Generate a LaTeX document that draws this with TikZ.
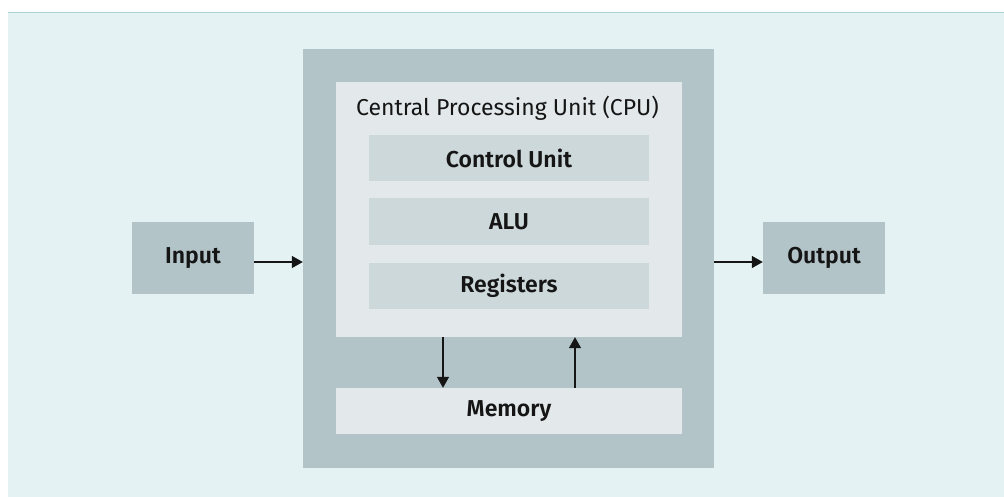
\documentclass[tikz,border=0pt]{standalone}
\usepackage{fontspec}
\setmainfont{Fira Sans}[BoldFont={Fira Sans SemiBold}]
\usetikzlibrary{arrows.meta,calc}
\definecolor{bgc}{HTML}{E4F2F3}
\definecolor{linec}{HTML}{A9D3D5}
\definecolor{grayc}{HTML}{B2C4C8}
\definecolor{innerc}{HTML}{E3E8EA}
\definecolor{subc}{HTML}{CDD8DA}
\definecolor{txtc}{HTML}{151515}
\begin{document}
\begin{tikzpicture}[x=1pt,y=-1pt,
  box/.style={draw=none,inner sep=0pt,minimum width=#1,text=txtc,font=\fontsize{23}{27}\selectfont\bfseries},
  arr/.style={draw=txtc,line width=1.3pt,-{Triangle[length=11pt,width=12pt]}}]
\useasboundingbox (0,0) rectangle (1004,497);
\fill[bgc] (8,13) rectangle (1004,497);
\draw[linec,line width=1pt] (8,13) -- (1004,13);
\node[box=122pt,fill=grayc,minimum height=72pt] (in) at (193,258) {Input};
\node[box=122pt,fill=grayc,minimum height=72pt] (out) at (824,258) {Output};
\node[box=411pt,fill=grayc,minimum height=419pt] (cpu) at (508.5,258.5) {};
\node[box=346pt,fill=innerc,minimum height=255pt] (inner) at (509,209.5) {};
\node[inner sep=0pt,text=txtc,font=\fontsize{23}{27}\selectfont] (title) at (507.5,108) {Central Processing Unit (CPU)};
\node[box=280pt,fill=subc,minimum height=46pt] (cu) at (509,158) {Control Unit};
\node[box=280pt,fill=subc,minimum height=47pt] (alu) at (509,221.5) {ALU};
\node[box=280pt,fill=subc,minimum height=46pt] (reg) at (509,286) {Registers};
\node[box=346pt,fill=innerc,minimum height=46pt] (mem) at (509,411) {Memory};
\draw[arr] ([yshift=-4pt]in.east) -- ([yshift=-4pt]in.east -| cpu.west);
\draw[arr] ([yshift=-4pt]out.west -| cpu.east) -- ([yshift=-4pt]out.west);
\draw[arr] ([xshift=-66pt]inner.south) -- ([xshift=-66pt]mem.north);
\draw[arr] ([xshift=66pt]mem.north) -- ([xshift=66pt]inner.south);
\end{tikzpicture}
\end{document}
